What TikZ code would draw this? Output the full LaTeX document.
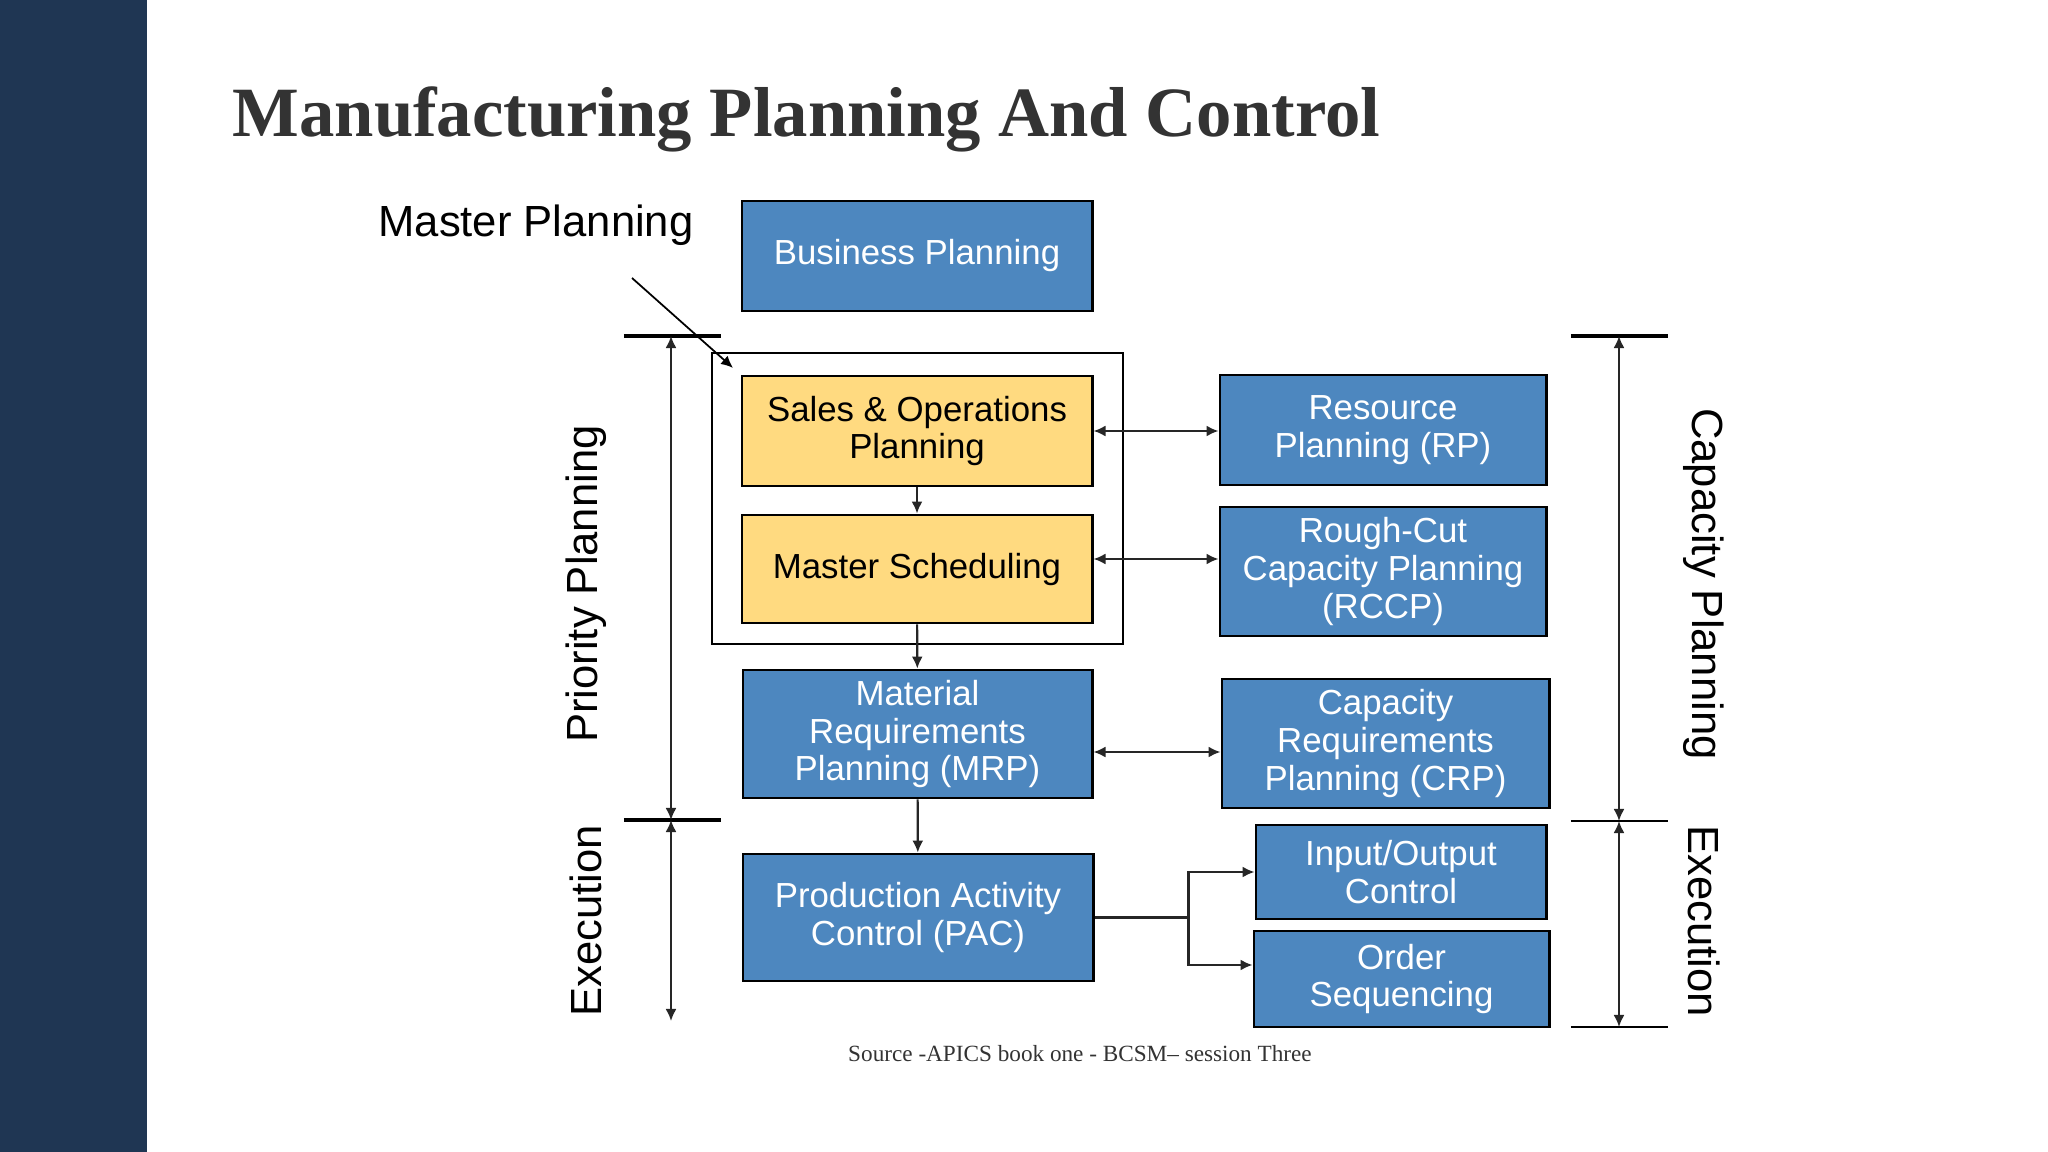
\documentclass[tikz,border=0pt]{standalone}
\usepackage{fontspec}
\setmainfont{Liberation Sans}
\newfontfamily\serifface{Liberation Serif}
\usetikzlibrary{arrows.meta}
\definecolor{slidebar}{HTML}{1F3653}
\definecolor{titlegray}{HTML}{333333}
\definecolor{boxblue}{HTML}{4D87BF}
\definecolor{boxgold}{HTML}{FFDA80}

\begin{document}
\begin{tikzpicture}[x=0.01cm, y=-0.01cm,
  every node/.style={font=\fontsize{9.9}{10.7}\selectfont, align=center, inner sep=0pt},
  blk/.style={draw=black, line width=0.8pt, fill=boxblue, text=white},
  gold/.style={draw=black, line width=0.8pt, fill=boxgold, text=black},
  side/.style={font=\fontsize{12.4}{14}\selectfont},
  flow/.style={black!85, line width=0.6pt, -{Latex[length=1.2mm,width=1.1mm]}},
  both/.style={black!85, line width=0.6pt, {Latex[length=1.2mm,width=1.1mm]}-{Latex[length=1.2mm,width=1.1mm]}},
  bar/.style={black, line width=1.2pt},
  thinbar/.style={black, line width=0.6pt}]
	\useasboundingbox (0,0) rectangle (2048,1152);
	\fill[white] (0,0) rectangle (2048,1152);
	\fill[slidebar] (0,0) rectangle (147,1152);
	\node[anchor=base west, text=titlegray, font=\serifface\bfseries\fontsize{20.1}{24}\selectfont] (title) at (232,137) {Manufacturing Planning And Control};
	% planning boxes
	\node[blk, minimum width=3.5cm, minimum height=1.1cm] (bp) at (917,256) {Business Planning};
	\node[draw=black, line width=0.6pt, minimum width=4.11cm, minimum height=2.91cm] (frame) at (917.5,498.5) {};
	\node[gold, minimum width=3.5cm, minimum height=1.1cm] (sop) at (917,431) {Sales \& Operations\\Planning};
	\node[gold, minimum width=3.5cm, minimum height=1.08cm] (ms) at (917,569) {Master Scheduling};
	\node[blk, minimum width=3.49cm, minimum height=1.28cm] (mrp) at (917.5,734) {Material\\Requirements\\Planning (MRP)};
	\node[blk, minimum width=3.5cm, minimum height=1.27cm] (pac) at (918,917.5) {Production Activity\\Control (PAC)};
	\node[blk, minimum width=3.26cm, minimum height=1.1cm] (rp) at (1383,430) {Resource\\Planning (RP)};
	\node[blk, minimum width=3.26cm, minimum height=1.29cm] (rccp) at (1383,571.5) {Rough-Cut\\Capacity Planning\\(RCCP)};
	\node[blk, minimum width=3.27cm, minimum height=1.29cm] (crp) at (1385.5,743.5) {Capacity\\Requirements\\Planning (CRP)};
	\node[blk, minimum width=2.9cm, minimum height=0.94cm] (io) at (1401,872) {Input/Output\\Control};
	\node[blk, minimum width=2.95cm, minimum height=0.96cm] (ord) at (1401.5,979) {Order\\Sequencing};
	% labels
	\node[side] (mp) at (536,225) {Master Planning};
	\node[side, rotate=90] (prio) at (586,584) {Priority Planning};
	\node[side, rotate=90] (exl) at (586,921) {Execution};
	\node[side, rotate=-90] (cap) at (1704,584) {Capacity Planning};
	\node[side, rotate=-90] (exr) at (1704,921) {Execution};
	\node[text=titlegray, font=\serifface\fontsize{6.6}{8}\selectfont] (src) at (1080,1054) {Source -APICS book one - BCSM– session Three};
	% flow
	\coordinate (mptail) at (632,278);
	\coordinate (msr) at ([yshift=1mm]ms.east);
	\coordinate (mrpr) at ([yshift=-1.8mm]mrp.east);
	\draw[flow, black, line width=0.5pt, shorten >=1mm] (mptail) -- (sop.north west);
	\draw[flow] (sop) -- (ms);
	\draw[flow] (ms) -- (mrp);
	\draw[flow] (mrp) -- (pac);
	\draw[both] (sop.east) -- (rp.west |- sop.east);
	\draw[both] (msr) -- (rccp.west |- msr);
	\draw[both] (mrpr) -- (crp.west |- mrpr);
	\draw[black!85, line width=0.6pt] (pac.east) -- ++(94,0) coordinate (split);
	\draw[flow] (split) |- (io.west);
	\draw[flow] (split) |- ([yshift=1.4mm]ord.west);
	% phase brackets
	\coordinate (lt) at (671,336);
	\coordinate (lm) at (671,820);
	\coordinate (lb) at (671,1021);
	\coordinate (rt) at (1619,336);
	\coordinate (rm) at (1619,821);
	\coordinate (rb) at (1619,1027);
	\draw[bar] ([xshift=-4.7mm]lt) -- ([xshift=5mm]lt);
	\draw[bar] ([xshift=-4.7mm]lm) -- ([xshift=5mm]lm);
	\draw[bar] ([xshift=-4.8mm]rt) -- ([xshift=4.9mm]rt);
	\draw[thinbar] ([xshift=-4.8mm]rm) -- ([xshift=4.9mm]rm);
	\draw[thinbar] ([xshift=-4.8mm]rb) -- ([xshift=4.9mm]rb);
	\draw[both] (lt) -- (lm);
	\draw[both] (lm) -- (lb);
	\draw[both] (rt) -- (rm);
	\draw[both] (rm) -- (rb);
\end{tikzpicture}
\end{document}
